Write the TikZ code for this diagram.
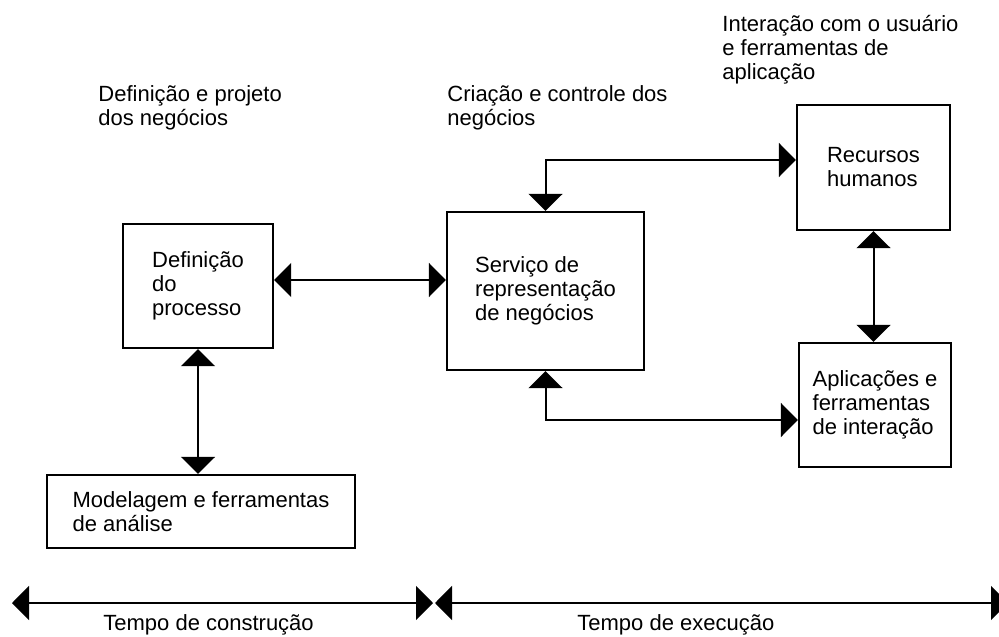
\documentclass[tikz,border=0pt]{standalone}
\usepackage{fontspec}
\setmainfont{Liberation Sans}
\usetikzlibrary{arrows.meta}
\tikzset{
  box/.style={draw, line width=1.2pt, align=left, inner sep=0pt},
  lbl/.style={align=left, inner sep=0pt, anchor=north west},
  tlbl/.style={inner sep=0pt, anchor=base west},
  conn/.style={{Triangle[length=8.5pt,width=17pt]}-{Triangle[length=8.5pt,width=17pt]}, line width=1pt}
}

\begin{document}
\begin{tikzpicture}[x=0.5pt, y=-0.5pt, font=\fontsize{11pt}{12pt}\selectfont]
  \useasboundingbox (0,0) rectangle (999,636);
  % titles over the three columns
  \node[lbl] (tdef) at (98,85) {Definição e projeto\\dos negócios};
  \node[lbl] (tcri) at (447,85) {Criação e controle dos\\negócios};
  \node[lbl] (tint) at (722,15) {Interação com o usuário\\e ferramentas de\\aplicação};
  % boxes
  \node[box, minimum width=75pt, minimum height=62pt] (def) at (198,286) {Definição\\do\\processo};
  \node[box, minimum width=154pt, minimum height=36.5pt] (mod) at (201,511.5) {Modelagem e ferramentas\\de análise};
  \node[box, minimum width=98.5pt, minimum height=79pt] (serv) at (545.5,291) {Serviço de\\representação\\de negócios};
  \node[box, minimum width=76.5pt, minimum height=62.5pt] (rec) at (873.5,167.5) {Recursos\\humanos};
  \node[box, minimum width=76pt, minimum height=62pt] (apl) at (875,405) {Aplicações e\\ferramentas\\de interação};
  % connectors
  \draw[conn] ([yshift=3pt]def.east) -- ([yshift=3pt]def.east -| serv.west);
  \draw[conn] (def.south) -- (def.south |- mod.north);
  \draw[conn] (serv.north) |- ([yshift=3.75pt]rec.west);
  \draw[conn] (serv.south) |- ([yshift=-7.5pt]apl.west);
  \draw[conn] (rec.south) -- (rec.south |- apl.north);
  % time line
  \coordinate (c0) at (12,603);
  \coordinate (c1) at (433,603);
  \coordinate (e0) at (435,603);
  \coordinate (e1) at (1008,603);
  \draw[conn] (c0) -- (c1);
  \draw[conn] (e0) -- (e1);
  \node[tlbl] (tcon) at (103,630) {Tempo de construção};
  \node[tlbl] (texe) at (577,630) {Tempo de execução};
\end{tikzpicture}
\end{document}
